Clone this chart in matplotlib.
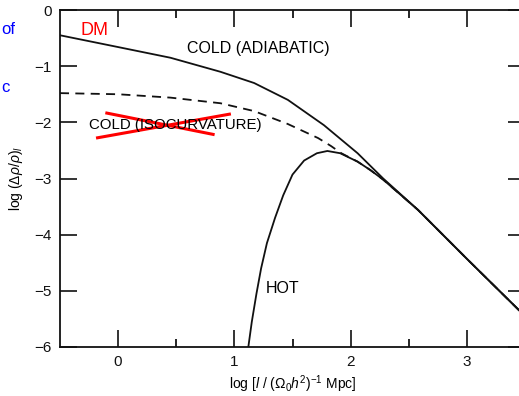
import matplotlib
matplotlib.use('Agg')
import matplotlib.pyplot as plt
import numpy as np

plt.rcParams['font.family'] = ['Liberation Sans', 'DejaVu Sans']
plt.rcParams['mathtext.fontset'] = 'custom'
plt.rcParams['mathtext.rm'] = 'Liberation Sans'
plt.rcParams['mathtext.it'] = 'Liberation Sans:italic'

# log l vs log (drho/rho)_l
cold_adi_x = [-0.5, 0.0, 0.45, 0.88, 1.17, 1.46, 1.77, 2.06, 2.28, 2.58, 3.0, 3.5]
cold_adi_y = [-0.45, -0.66, -0.85, -1.10, -1.30, -1.60, -2.05, -2.55, -3.0, -3.56, -4.43, -5.45]

cold_iso_x = [-0.5, 0.0, 0.45, 0.88, 1.17, 1.46, 1.72, 1.83, 1.92, 2.06, 2.17, 2.28, 2.58, 3.0, 3.5]
cold_iso_y = [-1.48, -1.50, -1.56, -1.66, -1.80, -2.03, -2.28, -2.42, -2.55, -2.70, -2.85, -3.02, -3.56, -4.43, -5.45]

hot_x = [1.12, 1.15, 1.19, 1.23, 1.28, 1.35, 1.42, 1.50, 1.60, 1.71, 1.80, 1.91, 2.06, 2.17, 2.28, 2.58, 3.0, 3.5]
hot_y = [-6.0, -5.55, -5.05, -4.6, -4.15, -3.7, -3.3, -2.93, -2.68, -2.55, -2.51, -2.55, -2.70, -2.85, -3.02, -3.56, -4.43, -5.45]

# red cross drawn over the isocurvature label
cross_a_x = [-0.19, 0.97]
cross_a_y = [-2.28, -1.85]
cross_b_x = [-0.11, 0.83]
cross_b_y = [-1.83, -2.22]

xticks = [0, 1, 2, 3]
yticks = [0, -1, -2, -3, -4, -5, -6]

fig = plt.figure(figsize=(5.19, 3.96), dpi=100)
ax = fig.add_axes([60 / 519, 49 / 396, 465 / 519, 337 / 396])

ax.plot(cold_adi_x, cold_adi_y, color='#111111', lw=1.3)
ax.plot(cold_iso_x, cold_iso_y, color='#111111', lw=1.3, ls=(0, (5, 3.5)))
ax.plot(hot_x, hot_y, color='#111111', lw=1.3)

ax.text(1.21, -0.69, 'COLD (ADIABATIC)', fontsize=11.5, ha='center', va='center')
ax.text(0.49, -2.05, 'COLD (ISOCURVATURE)', fontsize=10.8, ha='center', va='center')
ax.text(1.27, -4.95, 'HOT', fontsize=11.5, ha='left', va='center')

ax.plot(cross_a_x, cross_a_y, color='red', lw=2.2, solid_capstyle='butt')
ax.plot(cross_b_x, cross_b_y, color='red', lw=2.2, solid_capstyle='butt')
ax.text(-0.2, -0.36, 'DM', color='red', fontsize=13, ha='center', va='center')

fig.text(0.002, 1 - 30 / 396, 'of', color='blue', fontsize=12, ha='left', va='center')
fig.text(0.002, 1 - 88 / 396, 'c', color='blue', fontsize=12, ha='left', va='center')

ax.set_xlim(-0.5, 3.5)
ax.set_ylim(-6, 0)
ax.set_xticks(xticks)
ax.set_xticks([0.5, 1.5, 2.5], minor=True)
ax.set_yticks(yticks)
ax.set_yticklabels(['0', '\u22121', '\u22122', '\u22123', '\u22124', '\u22125', '\u22126'])
ax.tick_params(which='major', direction='in', length=12, width=1.2, labelsize=11,
               top=True, right=True, pad=6, colors='#111111')
ax.tick_params(which='minor', direction='in', length=6, width=1.2, top=True)
for s in ax.spines.values():
    s.set_linewidth(1.3)
    s.set_color('#111111')

ax.set_xlabel(r'log [$l$ / ($\Omega_0 h^2$)$^{-1}$ Mpc]', fontsize=10, labelpad=3)
ax.set_ylabel(r'log ($\Delta\rho/\rho$)$_l$', fontsize=10, labelpad=7)

fig.savefig('out.png', dpi=100)
